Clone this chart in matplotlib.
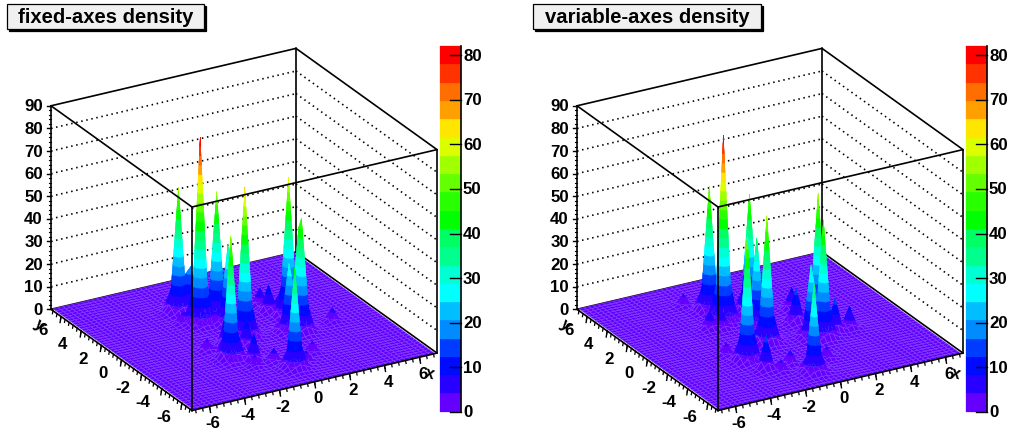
import numpy as np
import matplotlib
matplotlib.use('Agg')
import matplotlib.pyplot as plt
from matplotlib.collections import PolyCollection
from matplotlib.patches import Rectangle

plt.rcParams['font.family'] = ['Liberation Sans', 'DejaVu Sans']
plt.rcParams['font.weight'] = 'bold'

# peaks: position in the x/y plane and height
fixed_x = [-1.35, -1.52, -0.26, -0.39, -2.13, -0.19, 3.10, 2.56, -0.03, 2.35, 1.87,
           2.26, 2.28, 2.34, -1.34, -0.54, 4.37, -0.78, -1.71, -1.66, -2.07, -2.44,
           -2.73, 1.60, -1.72, -1.01, 0.69]
fixed_y = [2.10, 3.78, 2.12, 1.23, -2.65, -0.60, 0.82, -1.35, -5.05, -0.99, -1.00,
           1.44, 2.27, 0.70, -3.23, -3.82, -1.02, -1.73, -1.19, 1.72, 2.37, -3.02,
           -1.17, -3.78, -3.99, 3.31, -4.66]
fixed_h = [82, 55, 55, 35, 54, 66, 60, 50, 44, 45, 30,
           12, 8, 12, 12, 6, 6, 12, 15, 10, 5, 5,
           5, 5, 5, 20, 5]

var_x = [-1.29, -1.26, 0.15, -2.79, -0.37, -0.73, 2.66, 1.90, 1.36, -0.63,
         1.78, 2.15, 3.45, 2.62, -2.42, -2.34, -1.99, -3.19, -1.14, -2.79,
         -1.84, -1.12, 1.32, 1.05, 0.77, -2.42, -2.08]
var_y = [2.20, 3.63, 2.52, -2.60, 0.92, -1.20, -0.05, -1.86, -1.61, -5.23,
         0.32, 1.69, -1.72, -1.57, -3.87, 1.82, 1.34, -1.33, -3.90, -2.96,
         -4.48, -1.11, 0.30, -1.65, -4.29, -4.01, 4.76]
var_h = [82, 55, 52, 55, 39, 56, 56, 52, 32, 39,
         15, 10, 10, 15, 15, 8, 8, 5, 6, 5,
         5, 5, 5, 5, 5, 5, 5]

palette = ['#6400ff', '#2800ff', '#000aff', '#003cff', '#008cff',
           '#00beff', '#00ffff', '#00ffd2', '#00ff8c', '#00ff64',
           '#00ff00', '#28ff00', '#64ff00', '#a0ff00', '#dcff00',
           '#ffe600', '#ffa000', '#ff6e00', '#ff3200', '#ff0000']
z_top = 82.06
levels = np.linspace(0, z_top, len(palette) + 1)
z_ticks = np.arange(0, 100, 10)
bar_ticks = np.arange(0, 90, 10)
xy_ticks = np.arange(-6, 8, 2)

panel_offset = 526
px_per_z = 203.5 / 90


def project(x, y, z, ox=0):
    u = (np.asarray(x) + 7) / 14
    v = (np.asarray(y) + 7) / 14
    return 192 + ox + 245 * u - 141 * v, 410.5 - 57.4 * u - 101.2 * v - px_per_z * np.asarray(z)


def surface(xn, yn, peak_x, peak_y, peak_h):
    # 1 bin wide spike on a node, falling off quickly around it
    z = np.zeros((len(xn), len(yn)))
    X, Y = np.meshgrid(xn, yn, indexing='ij')
    for px, py, ph in zip(peak_x, peak_y, peak_h):
        nx = xn[np.argmin(np.abs(xn - px))]
        ny = yn[np.argmin(np.abs(yn - py))]
        r = np.hypot(X - nx, Y - ny)
        z = np.maximum(z, ph * np.exp(-r / 0.21))
    return z


def clip(pts, level, above):
    out = []
    for k in range(len(pts)):
        a, b = pts[k], pts[(k + 1) % len(pts)]
        ina = a[2] >= level if above else a[2] <= level
        inb = b[2] >= level if above else b[2] <= level
        if ina:
            out.append(a)
        if ina != inb:
            t = (level - a[2]) / (b[2] - a[2])
            out.append(tuple(a[m] + t * (b[m] - a[m]) for m in range(3)))
    return out


def draw_surface(ax, peak_x, peak_y, peak_h, ox):
    xn = np.linspace(-6.88, 6.88, 51)
    yn = np.linspace(-7, 7, 51)
    z = surface(xn, yn, peak_x, peak_y, peak_h)
    polys, faces, edges, widths = [], [], [], []
    for i in range(49, -1, -1):
        for j in range(49, -1, -1):
            p00 = (xn[i], yn[j], z[i, j])
            p10 = (xn[i + 1], yn[j], z[i + 1, j])
            p01 = (xn[i], yn[j + 1], z[i, j + 1])
            p11 = (xn[i + 1], yn[j + 1], z[i + 1, j + 1])
            if max(p00[2], p10[2], p01[2], p11[2]) < levels[1]:
                sx, sy = project(*zip(p00, p10, p11, p01), ox)
                polys.append(np.column_stack([sx, sy]))
                faces.append(palette[0])
                edges.append('#8040ff')
                widths.append(0.35)
                continue
            for tri in ([p10, p11, p01], [p00, p10, p01]):
                zs = [t[2] for t in tri]
                lo = min(int(min(zs) / levels[1]), len(palette) - 1)
                hi = min(int(max(zs) / levels[1]), len(palette) - 1)
                for k in range(lo, hi + 1):
                    part = clip(clip(tri, levels[k], True), levels[k + 1], False)
                    if len(part) < 3:
                        continue
                    sx, sy = project(*zip(*part), ox)
                    polys.append(np.column_stack([sx, sy]))
                    faces.append(palette[k])
                    edges.append(palette[k])
                    widths.append(0.2)
    ax.add_collection(PolyCollection(polys, facecolors=faces, edgecolors=edges,
                                     linewidths=widths, zorder=3))


def line(ax, a, b, ox, **kw):
    sx, sy = project([a[0], b[0]], [a[1], b[1]], [a[2], b[2]], ox)
    ax.plot(sx, sy, **kw)


def draw_panel(ax, title, title_box, peak_x, peak_y, peak_h, ox):
    solid = dict(color='black', lw=1.2, solid_capstyle='round')
    dotted = dict(color='black', lw=1.2, ls=(0, (0.9, 2.2)), zorder=1)

    # title box with its shadow
    x0, y0, x1, y1 = title_box
    ax.add_patch(Rectangle((x0 + 2, y0 + 2), x1 - x0, y1 - y0, fc='black', ec='black', lw=0.9))
    ax.add_patch(Rectangle((x0, y0), x1 - x0, y1 - y0, fc='#f0f0f0', ec='black', lw=0.9))
    ax.text((x0 + x1) / 2, (y0 + y1) / 2 + 1, title, fontsize=14.6, ha='center', va='center')

    # back walls
    for z in z_ticks[1:-1]:
        line(ax, (-7, 7, z), (7, 7, z), ox, **dotted)
        line(ax, (7, 7, z), (7, -7, z), ox, **dotted)
    line(ax, (7, 7, 0), (7, 7, 90), ox, zorder=2, **solid)
    line(ax, (-7, 7, 0), (7, 7, 0), ox, zorder=2, **solid)
    line(ax, (7, 7, 0), (7, -7, 0), ox, zorder=2, **solid)

    draw_surface(ax, peak_x, peak_y, peak_h, ox)

    # front frame goes over the surface
    for a, b in [((-7, 7, 90), (7, 7, 90)), ((7, 7, 90), (7, -7, 90)),
                 ((7, -7, 90), (-7, -7, 90)), ((-7, -7, 90), (-7, 7, 90)),
                 ((-7, 7, 0), (-7, 7, 90)), ((-7, -7, 0), (-7, -7, 90)),
                 ((7, -7, 0), (7, -7, 90)), ((-7, 7, 0), (-7, -7, 0)),
                 ((-7, -7, 0), (7, -7, 0))]:
        line(ax, a, b, ox, zorder=4, **solid)

    # z axis
    sx, sy = project(-7, 7, z_ticks, ox)
    for yy, val in zip(sy, z_ticks):
        ax.plot([sx - 4, sx], [yy, yy], color='black', lw=1.0, zorder=4)
        ax.text(sx - 8, yy + 1, str(val), fontsize=12.2, ha='right', va='center')
    for zm in np.arange(0, 90.5, 2):
        sx, yy = project(-7, 7, zm, ox)
        ax.plot([sx - 2, sx], [yy, yy], color='black', lw=0.8, zorder=4)

    # x and y axes along the floor
    for tm in np.arange(-6.8, 7, 0.4):
        sx, sy = project(tm, -7, 0, ox)
        ax.plot([sx, sx + 0.6], [sy, sy + 3], color='black', lw=0.9, zorder=4)
        sx, sy = project(-7, tm, 0, ox)
        ax.plot([sx, sx - 0.6], [sy, sy + 3], color='black', lw=0.9, zorder=4)
    for t in xy_ticks:
        sx, sy = project(t, -7, 0, ox)
        ax.plot([sx, sx + 1], [sy, sy + 6], color='black', lw=1.0, zorder=4)
        ax.text(sx + 3.5, sy + 17, str(t), fontsize=12.2, ha='center', va='center')
        sx, sy = project(-7, t, 0, ox)
        ax.plot([sx, sx - 1], [sy, sy + 6], color='black', lw=1.0, zorder=4)
        ax.text(sx - 18.5, sy + 14, str(t), fontsize=12.2, ha='center', va='center')
    ax.text(430 + ox, 374, 'x', fontsize=12, ha='center', va='center', rotation=-15)
    ax.text(39 + ox, 325, 'y', fontsize=12, ha='center', va='center', rotation=-40)

    # colour bar
    bar_y = lambda v: 411.7 - 4.454 * np.asarray(v)
    for k, col in enumerate(palette):
        top, bot = bar_y(levels[k + 1]), bar_y(levels[k])
        ax.add_patch(Rectangle((440 + ox, top), 21, bot - top, fc=col, ec=col, lw=0.2))
    ax.plot([461 + ox, 461 + ox], [bar_y(0), bar_y(z_top)], color='black', lw=1.2, zorder=4)
    for v in bar_ticks:
        ax.plot([450 + ox, 461 + ox], [bar_y(v), bar_y(v)], color='black', lw=1.0, zorder=4)
        ax.text(463 + ox, bar_y(v) + 1, str(v), fontsize=12.2, ha='left', va='center')


fig = plt.figure(figsize=(10.09, 4.32), dpi=100)
ax = fig.add_axes([0, 0, 1, 1])
ax.set_xlim(0, 1009)
ax.set_ylim(432, 0)
ax.axis('off')

draw_panel(ax, 'fixed-axes density', (7, 4, 204, 29), fixed_x, fixed_y, fixed_h, 0)
draw_panel(ax, 'variable-axes density', (533, 4, 761, 28.5), var_x, var_y, var_h, panel_offset)

fig.savefig('out.png', dpi=100)
